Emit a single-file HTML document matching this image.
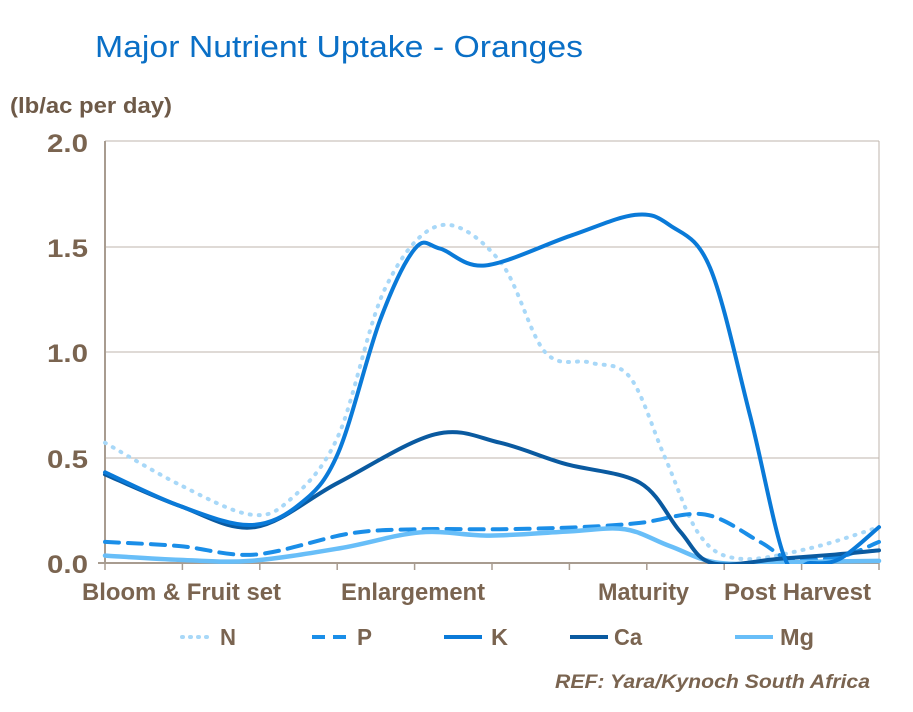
<!DOCTYPE html>
<html><head><meta charset="utf-8"><style>
body{margin:0;background:#fff;}
svg text{font-family:"Liberation Sans",Arial,sans-serif;font-weight:bold;}
</style></head><body>
<svg id="s" width="913" height="707" xmlns="http://www.w3.org/2000/svg">
<defs><clipPath id="c"><rect x="100" y="130" width="790" height="434"/></clipPath></defs>
<text x="95" y="57" font-size="31" fill="#0a6fc6" style="font-weight:normal" textLength="488" lengthAdjust="spacingAndGlyphs">Major Nutrient Uptake - Oranges</text>
<text x="10" y="113" font-size="22" fill="#6e5a48" textLength="162" lengthAdjust="spacingAndGlyphs">(lb/ac per day)</text>
<g stroke="#bfb6ac" stroke-width="1">
<line x1="105" y1="141" x2="879" y2="141"/>
<line x1="105" y1="247" x2="879" y2="247"/>
<line x1="105" y1="352" x2="879" y2="352"/>
<line x1="105" y1="458" x2="879" y2="458"/>
<line x1="879" y1="141" x2="879" y2="563"/>
</g>
<g stroke="#a89c90" stroke-width="2">
<line x1="105" y1="141" x2="105" y2="564"/>
<line x1="98" y1="563" x2="879" y2="563"/>
</g>
<g id="ticks" stroke="#a89c90" stroke-width="1.5"></g>
<g font-size="25" fill="#7a6450">
<text x="47" y="152" textLength="41" lengthAdjust="spacingAndGlyphs">2.0</text>
<text x="47" y="257" textLength="41" lengthAdjust="spacingAndGlyphs">1.5</text>
<text x="47" y="362" textLength="41" lengthAdjust="spacingAndGlyphs">1.0</text>
<text x="47" y="468" textLength="41" lengthAdjust="spacingAndGlyphs">0.5</text>
<text x="47" y="573" textLength="41" lengthAdjust="spacingAndGlyphs">0.0</text>
</g>
<g font-size="24" fill="#7a6450">
<text x="82" y="600" textLength="199" lengthAdjust="spacingAndGlyphs">Bloom &amp; Fruit set</text>
<text x="341" y="600" textLength="144" lengthAdjust="spacingAndGlyphs">Enlargement</text>
<text x="598" y="600" textLength="91" lengthAdjust="spacingAndGlyphs">Maturity</text>
<text x="724" y="600" textLength="147" lengthAdjust="spacingAndGlyphs">Post Harvest</text>
</g>
<g id="lines" fill="none" stroke-linecap="round" clip-path="url(#c)"></g>
<g stroke-width="4" fill="none">
<line x1="182" y1="637" x2="212" y2="637" stroke="#a8d8f8" stroke-dasharray="1,7" stroke-linecap="round"/>
<line x1="312" y1="637" x2="350" y2="637" stroke="#1a8ee8" stroke-dasharray="13,8"/>
<line x1="444" y1="637" x2="482" y2="637" stroke="#0a7ad8"/>
<line x1="570" y1="637" x2="608" y2="637" stroke="#0a5aa0"/>
<line x1="735" y1="637" x2="773" y2="637" stroke="#68bef8"/>
</g>
<g font-size="23" fill="#7a6450">
<text x="220" y="645" textLength="16" lengthAdjust="spacingAndGlyphs">N</text>
<text x="357" y="645" textLength="15" lengthAdjust="spacingAndGlyphs">P</text>
<text x="491" y="645" textLength="17" lengthAdjust="spacingAndGlyphs">K</text>
<text x="614" y="645" textLength="28" lengthAdjust="spacingAndGlyphs">Ca</text>
<text x="780" y="645" textLength="34" lengthAdjust="spacingAndGlyphs">Mg</text>
</g>
<text x="555" y="688" font-size="19" fill="#7a6450" style="font-style:italic" textLength="315" lengthAdjust="spacingAndGlyphs">REF: Yara/Kynoch South Africa</text>
</svg>
<script>
var Y=v=>563-211*v;
var t=document.getElementById('ticks');
for(var i=0;i<=10;i++){var x=105+77.4*i;t.innerHTML+='<line x1="'+x+'" y1="563" x2="'+x+'" y2="570"/>';}
function path(p){p=p.map(a=>[a[0],Y(a[1])]);var d='M'+p[0][0]+','+p[0][1];
for(var i=0;i<p.length-1;i++){var p0=p[i-1]||p[i],p1=p[i],p2=p[i+1],p3=p[i+2]||p2;
var c1=[p1[0]+(p2[0]-p0[0])/6,p1[1]+(p2[1]-p0[1])/6],c2=[p2[0]-(p3[0]-p1[0])/6,p2[1]-(p3[1]-p1[1])/6];
d+=' C'+c1+' '+c2+' '+p2;}return d;}
var S=[
["#a8d8f8","1,8",4,[[105,.57],[180,.37],[250,.23],[290,.3],[338,.6],[385,1.3],[440,1.6],[500,1.43],[545,1.0],[590,.95],[630,.88],[665,.5],[700,.13],[740,.02],[810,.07],[879,.17]]],
["#1a8ee8","14,9",4,[[105,.1],[180,.08],[255,.04],[350,.14],[420,.16],[500,.16],[580,.17],[640,.19],[705,.23],[760,.1],[790,.02],[840,.03],[879,.1]]],
["#68bef8","",4.5,[[105,.035],[180,.015],[250,.01],[340,.07],[420,.145],[490,.13],[570,.15],[625,.16],[670,.08],[720,0],[800,.005],[879,.01]]],
["#0a5aa0","",4,[[105,.42],[180,.27],[255,.17],[338,.38],[435,.61],[500,.57],[565,.47],[640,.38],[680,.15],[712,0],[780,.02],[835,.04],[879,.06]]],
["#0a7ad8","",4,[[105,.43],[180,.27],[250,.18],[300,.28],[338,.52],[380,1.15],[415,1.49],[440,1.49],[485,1.41],[570,1.55],[635,1.65],[670,1.6],[710,1.4],[750,.7],[785,.02],[810,0],[840,.02],[879,.17]]]];
var g=document.getElementById('lines'),h='';
S.forEach(s=>{h+='<path d="'+path(s[3])+'" stroke="'+s[0]+'" stroke-width="'+s[2]+'"'+(s[1]?' stroke-dasharray="'+s[1]+'"':'')+'/>';});
g.innerHTML=h;
</script>
</body></html>
